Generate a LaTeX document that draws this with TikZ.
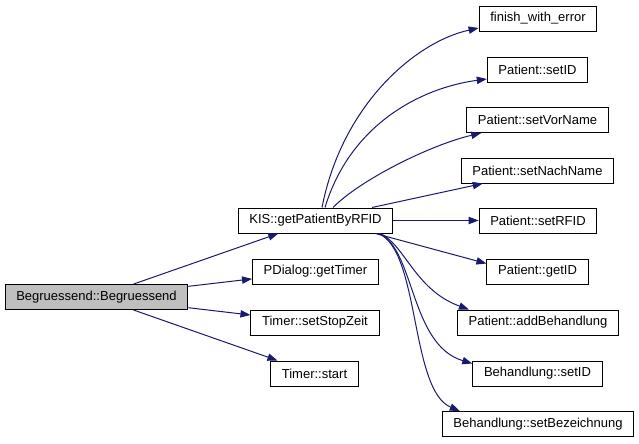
\documentclass[tikz,border=0pt]{standalone}
\usepackage{fontspec}
\setmainfont{Liberation Sans}
\usetikzlibrary{arrows.meta,calc}
\definecolor{edgeblue}{HTML}{191970}
\definecolor{nodegray}{HTML}{BFBFBF}
\begin{document}
\begin{tikzpicture}[x=0.75pt,y=-0.75pt,
  fn/.style={draw=black,line width=0.75pt,fill=white,inner xsep=8.4pt,inner ysep=0pt,minimum height=18.75pt,font=\fontsize{9.75}{11}\selectfont},
  rootfn/.style={fn,fill=nodegray},
  call/.style={draw=edgeblue,line width=0.75pt,-{Triangle[length=7.5pt,width=5.5pt]},fill=none}]
\useasboundingbox (0,0) rectangle (639,443);
% nodes
\node[rootfn] (beg) at (96.5,297) {Begruessend::Begruessend};
\node[fn] (kis) at (315.5,220.5) {KIS::getPatientByRFID};
\node[fn] (pdlg) at (315.5,271.5) {PDialog::getTimer};
\node[fn] (stop) at (315,322.5) {Timer::setStopZeit};
\node[fn] (tstart) at (314.5,373.5) {Timer::start};
\node[fn] (few) at (538,18.5) {finish\_with\_error};
\node[fn] (psetid) at (537.5,69.5) {Patient::setID};
\node[fn] (vor) at (537.5,120) {Patient::setVorName};
\node[fn] (nach) at (537.5,170.5) {Patient::setNachName};
\node[fn] (rfid) at (538,220.5) {Patient::setRFID};
\node[fn] (getid) at (537.5,271.5) {Patient::getID};
\node[fn] (addb) at (538,322.5) {Patient::addBehandlung};
\node[fn] (bsetid) at (537.5,373.5) {Behandlung::setID};
\node[fn] (bez) at (538,424) {Behandlung::setBezeichnung};
% edges from Begruessend
\draw[call] (beg) -- (kis);
\draw[call] (beg) -- (pdlg);
\draw[call] (beg) -- (stop);
\draw[call] (beg) -- (tstart);
% edges from KIS
\draw[call] ($(kis.north)+(6.5,0)$) .. controls (342,105) and (415,42) .. ($(few.west)+(0,9.5)$);
\draw[call] ($(kis.north)+(9.5,0)$) .. controls (350,125) and (420,88) .. ($(psetid.west)+(0,9.5)$);
\draw[call] ($(kis.north)+(17.5,0)$) .. controls (360,180) and (430,145) .. ($(vor.south west)+(15,0)$);
\draw[call] ($(kis.north)+(56.5,0)$) -- ($(nach.south west)+(22,0)$);
\draw[call] (kis) -- (rfid);
\draw[call] ($(kis.south east)+(-18,0)$) -- ($(getid.west)+(0,-8)$);
\draw[call] ($(kis.south east)+(-13,0)$) .. controls (405,245) and (415,290) .. ($(addb.north west)+(12,0)$);
\draw[call] ($(kis.south east)+(-14,0)$) .. controls (415,250) and (410,345) .. ($(bsetid.west)+(0,-10)$);
\draw[call] ($(kis.south east)+(-15,0)$) .. controls (420,250) and (410,390) .. ($(bez.north west)+(18,0)$);
\end{tikzpicture}
\end{document}
